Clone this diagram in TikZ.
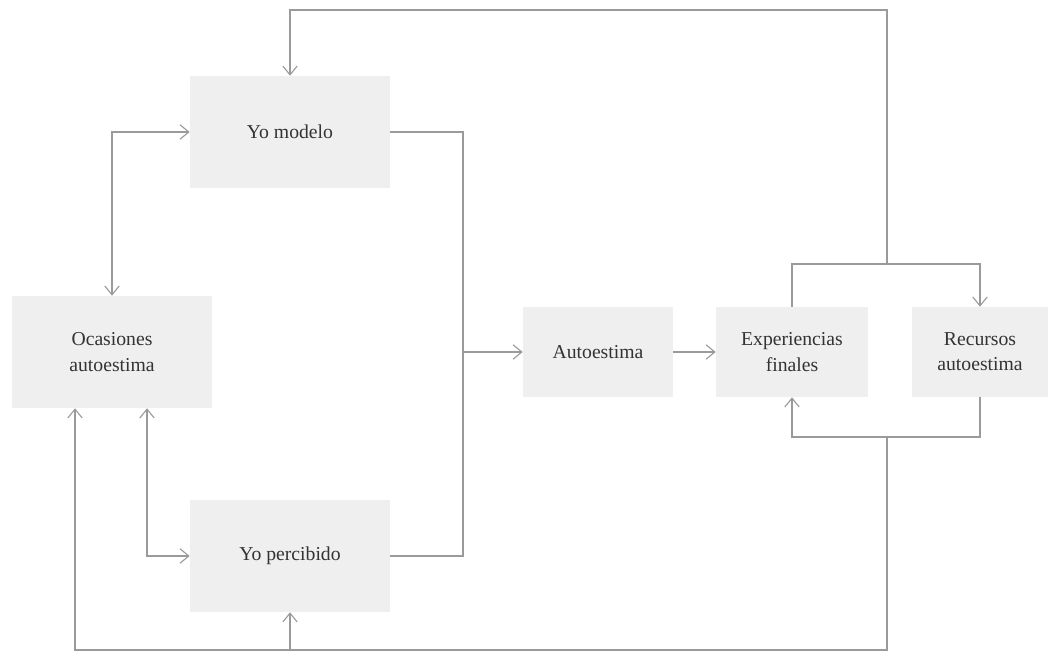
\documentclass[tikz,border=0pt]{standalone}
\usepackage{fontspec}
\setmainfont{Liberation Serif}
\usetikzlibrary{positioning,calc,arrows.meta}

\definecolor{boxgray}{HTML}{EFEFEF}
\definecolor{linegray}{HTML}{9A9A9A}

\begin{document}
\begin{tikzpicture}[
    >={Straight Barb[length=2.2mm,width=3.6mm]},
    box/.style={fill=boxgray, minimum width=5cm, minimum height=2.8cm, align=center,
        font=\fontsize{14}{18}\selectfont, text=black!80},
    smallbox/.style={box, minimum width=3.75cm, minimum height=2.25cm},
    link/.style={draw=linegray, line width=0.8pt}
]
    \useasboundingbox (0,0) rectangle (26.3,16.6);

    % Self boxes
    \node[box] (ocasiones) at (2.8,7.8) {Ocasiones\\autoestima};
    \node[box] (modelo) at (7.25,13.3) {Yo modelo};
    \node[box] (percibido) at (7.25,2.7) {Yo percibido};

    % Result chain
    \node[smallbox] (autoestima) at (14.95,7.8) {Autoestima};
    \node[smallbox, minimum width=3.8cm] (experiencias) at (19.8,7.8) {Experiencias\\finales};
    \node[smallbox, minimum width=3.4cm] (recursos) at (24.5,7.8) {Recursos\\autoestima};

    % Junction points
    \coordinate (join) at (11.575,7.8);
    \coordinate (topsplit) at (22.175,10);
    \coordinate (roof) at (22.175,16.35);
    \coordinate (botsplit) at (22.175,5.675);
    \coordinate (ground) at (22.175,0.35);

    % Left side
    \draw[link, <->] (ocasiones.north) |- (modelo.west);
    \draw[link, <->] ([xshift=0.875cm]ocasiones.south) |- (percibido.west);
    \draw[link] (modelo.east) -| (join) |- (percibido.east);
    \draw[link, ->] (join) -- (autoestima);
    \draw[link, ->] (autoestima) -- (experiencias);

    % Feedback loops
    \draw[link, ->] (experiencias.north) |- (topsplit) -| (recursos.north);
    \draw[link, ->] (topsplit) -- (roof) -| (modelo.north);
    \draw[link, ->] (recursos.south) |- (botsplit) -| (experiencias.south);
    \draw[link, ->] (botsplit) -- (ground) -| ([xshift=-0.925cm]ocasiones.south);
    \draw[link, ->] (ground -| percibido.south) -- (percibido.south);
\end{tikzpicture}
\end{document}
